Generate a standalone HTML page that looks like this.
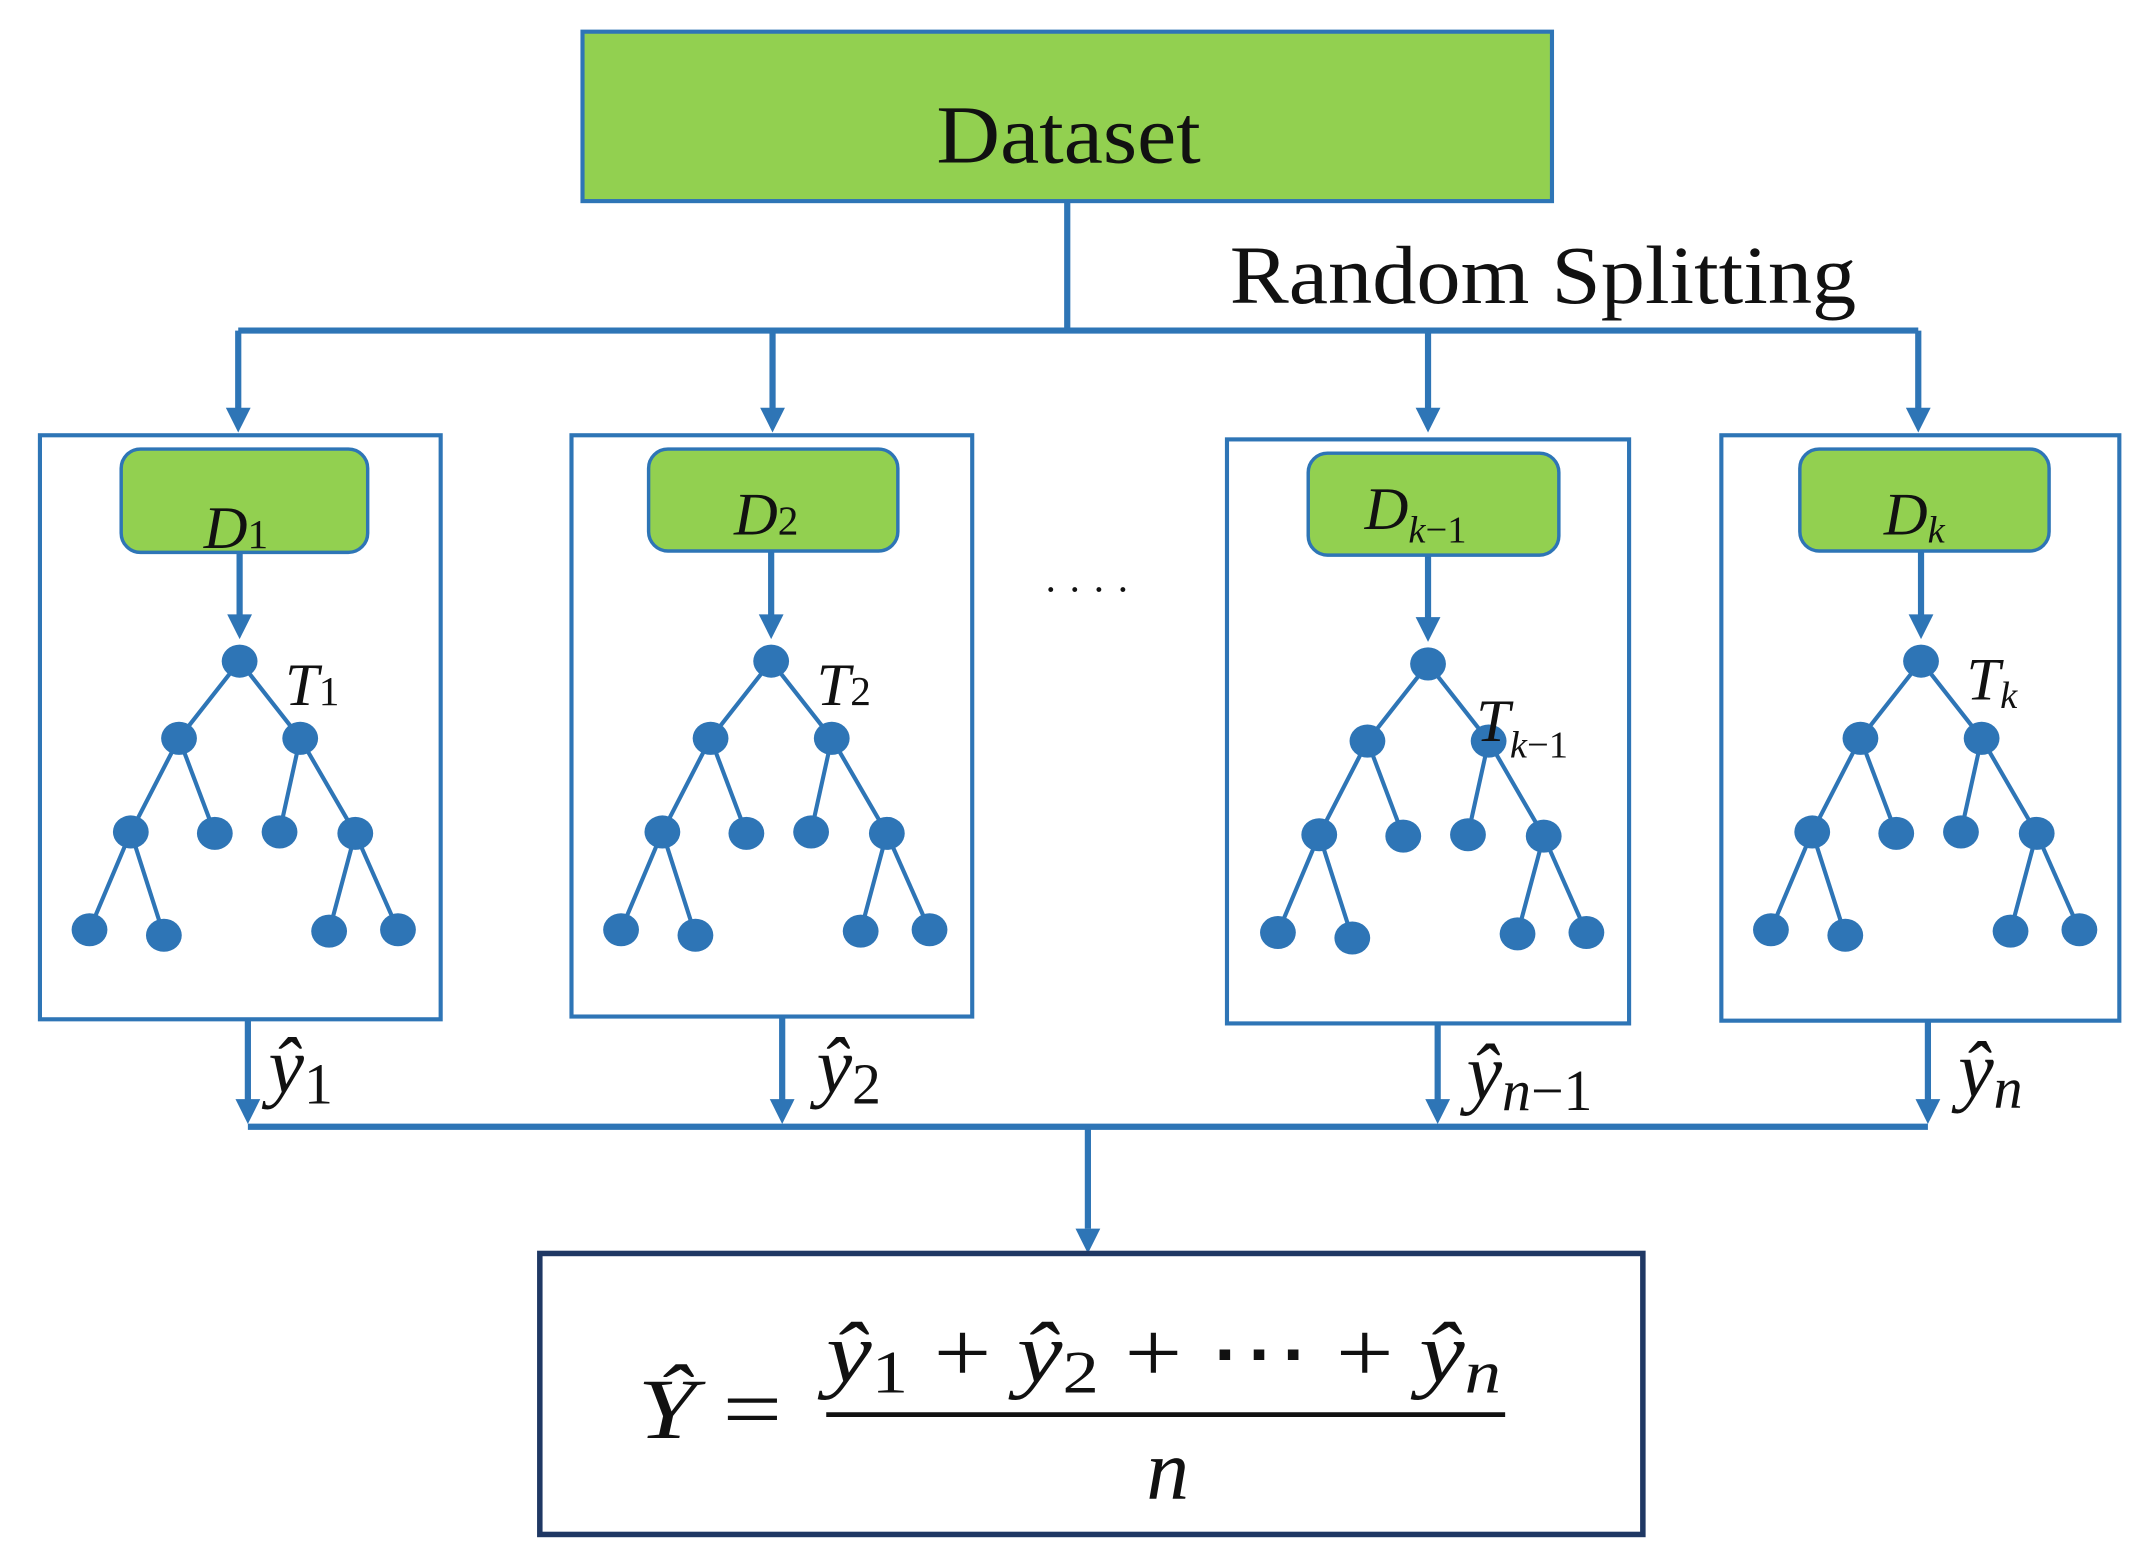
<!DOCTYPE html>
<html><head><meta charset="utf-8"><style>
html,body{margin:0;padding:0;background:#fff;}
svg{display:block;}
text{font-family:"Liberation Serif",serif;fill:#111;}
</style></head><body>
<svg width="2151" height="1562" viewBox="0 0 1562 1134" preserveAspectRatio="none" xmlns="http://www.w3.org/2000/svg">
<defs>
<g id="tree" stroke="#2e75b6" stroke-width="3" fill="#2e75b6">
<line x1="0" y1="0" x2="-44" y2="56"/><line x1="0" y1="0" x2="44" y2="56"/>
<line x1="-44" y1="56" x2="-79" y2="124"/><line x1="-44" y1="56" x2="-18" y2="125"/>
<line x1="44" y1="56" x2="29" y2="124"/><line x1="44" y1="56" x2="84" y2="125"/>
<line x1="-79" y1="124" x2="-109" y2="195"/><line x1="-79" y1="124" x2="-55" y2="199"/>
<line x1="84" y1="125" x2="65" y2="196"/><line x1="84" y1="125" x2="115" y2="195"/>
<g stroke="none">
<ellipse cx="0" cy="0" rx="13" ry="12"/>
<ellipse cx="-44" cy="56" rx="13" ry="12"/><ellipse cx="44" cy="56" rx="13" ry="12"/>
<ellipse cx="-79" cy="124" rx="13" ry="12"/><ellipse cx="-18" cy="125" rx="13" ry="12"/>
<ellipse cx="29" cy="124" rx="13" ry="12"/><ellipse cx="84" cy="125" rx="13" ry="12"/>
<ellipse cx="-109" cy="195" rx="13" ry="12"/><ellipse cx="-55" cy="199" rx="13" ry="12"/>
<ellipse cx="65" cy="196" rx="13" ry="12"/><ellipse cx="115" cy="195" rx="13" ry="12"/>
</g></g>
<g id="arrow" fill="#2e75b6"><polygon points="-9,-18 9,-18 0,0"/></g>
</defs>

<rect x="423" y="23" width="704" height="123" fill="#92d050" stroke="#2e75b6" stroke-width="3"/>
<text x="680" y="118" font-size="60" textLength="192" lengthAdjust="spacingAndGlyphs">Dataset</text>
<text x="893" y="220" font-size="60" textLength="455" lengthAdjust="spacingAndGlyphs">Random Splitting</text>

<g stroke="#2e75b6" stroke-width="4.5" fill="none">
<line x1="775" y1="146" x2="775" y2="240"/>
<line x1="173" y1="240" x2="1393" y2="240"/>
<line x1="173" y1="240" x2="173" y2="298"/>
<line x1="561" y1="240" x2="561" y2="298"/>
<line x1="1037" y1="240" x2="1037" y2="298"/>
<line x1="1393" y1="240" x2="1393" y2="298"/>
<rect x="29" y="316" width="291" height="424" stroke-width="3"/>
<rect x="415" y="316" width="291" height="422" stroke-width="3"/>
<rect x="891" y="319" width="292" height="424" stroke-width="3"/>
<rect x="1250" y="316" width="289" height="425" stroke-width="3"/>
<line x1="174" y1="401" x2="174" y2="448"/>
<line x1="560" y1="400" x2="560" y2="448"/>
<line x1="1037" y1="403" x2="1037" y2="450"/>
<line x1="1395" y1="400" x2="1395" y2="448"/>
<line x1="180" y1="740" x2="180" y2="800"/>
<line x1="568" y1="738" x2="568" y2="800"/>
<line x1="1044" y1="743" x2="1044" y2="800"/>
<line x1="1400" y1="741" x2="1400" y2="800"/>
<line x1="180" y1="818" x2="1400" y2="818"/>
<line x1="790" y1="818" x2="790" y2="892"/>
</g>
<use href="#arrow" x="173" y="314"/><use href="#arrow" x="561" y="314"/>
<use href="#arrow" x="1037" y="314"/><use href="#arrow" x="1393" y="314"/>
<use href="#arrow" x="174" y="464"/><use href="#arrow" x="560" y="464"/>
<use href="#arrow" x="1037" y="466"/><use href="#arrow" x="1395" y="464"/>
<use href="#arrow" x="180" y="816"/><use href="#arrow" x="568" y="816"/>
<use href="#arrow" x="1044" y="816"/><use href="#arrow" x="1400" y="816"/>
<use href="#arrow" x="790" y="910"/>

<rect x="88" y="326" width="179" height="75" rx="14" fill="#92d050" stroke="#2e75b6" stroke-width="2.5"/>
<rect x="471" y="326" width="181" height="74" rx="14" fill="#92d050" stroke="#2e75b6" stroke-width="2.5"/>
<rect x="950" y="329" width="182" height="74" rx="14" fill="#92d050" stroke="#2e75b6" stroke-width="2.5"/>
<rect x="1307" y="326" width="181" height="74" rx="14" fill="#92d050" stroke="#2e75b6" stroke-width="2.5"/>
<text x="148" y="398" font-size="44" font-style="italic">D<tspan font-size="30" font-style="normal">1</tspan></text>
<text x="533" y="388" font-size="44" font-style="italic">D<tspan font-size="30" font-style="normal">2</tspan></text>
<text x="991" y="384" font-size="44" font-style="italic">D<tspan font-size="28" dy="10">k</tspan><tspan font-size="28" font-style="normal">−1</tspan></text>
<text x="1368" y="388" font-size="44" font-style="italic">D<tspan font-size="28" dy="6">k</tspan></text>

<use href="#tree" x="174" y="480"/>
<use href="#tree" x="560" y="480"/>
<use href="#tree" x="1037" y="482"/>
<use href="#tree" x="1395" y="480"/>

<text x="207" y="512" font-size="44" font-style="italic">T<tspan font-size="30" font-style="normal">1</tspan></text>
<text x="593" y="512" font-size="44" font-style="italic">T<tspan font-size="30" font-style="normal">2</tspan></text>
<text x="1072" y="538" font-size="44" font-style="italic">T<tspan font-size="28" dy="12">k</tspan><tspan font-size="28" font-style="normal">−1</tspan></text>
<text x="1428" y="508" font-size="44" font-style="italic">T<tspan font-size="28" dy="6">k</tspan></text>

<text x="758" y="438" font-size="30" fill="#555">· · · ·</text>

<text x="195" y="793" font-size="58" font-style="italic">ŷ<tspan font-size="42" font-style="normal" dy="8">1</tspan></text>
<text x="593" y="793" font-size="58" font-style="italic">ŷ<tspan font-size="42" font-style="normal" dy="8">2</tspan></text>
<text x="1065" y="798" font-size="58" font-style="italic">ŷ<tspan font-size="42" dy="8">n</tspan><tspan font-size="42" font-style="normal">−1</tspan></text>
<text x="1422" y="796" font-size="58" font-style="italic">ŷ<tspan font-size="42" dy="8">n</tspan></text>

<rect x="392" y="910" width="801" height="204" fill="#fff" stroke="#1f3864" stroke-width="4"/>
<text x="463" y="1044" font-size="62" textLength="105" lengthAdjust="spacingAndGlyphs"><tspan font-style="italic">Ŷ</tspan> =</text>
<text x="600" y="1003" font-size="62" textLength="490" lengthAdjust="spacingAndGlyphs"><tspan font-style="italic">ŷ</tspan><tspan font-size="44" dy="8">1</tspan><tspan dy="-8"> + </tspan><tspan font-style="italic">ŷ</tspan><tspan font-size="44" dy="8">2</tspan><tspan dy="-8"> + ⋯ + </tspan><tspan font-style="italic">ŷ</tspan><tspan font-size="44" font-style="italic" dy="8">n</tspan></text>
<line x1="600" y1="1027" x2="1093" y2="1027" stroke="#111" stroke-width="3.5"/>
<text x="848" y="1088" font-size="62" font-style="italic" text-anchor="middle">n</text>
</svg>
</body></html>
